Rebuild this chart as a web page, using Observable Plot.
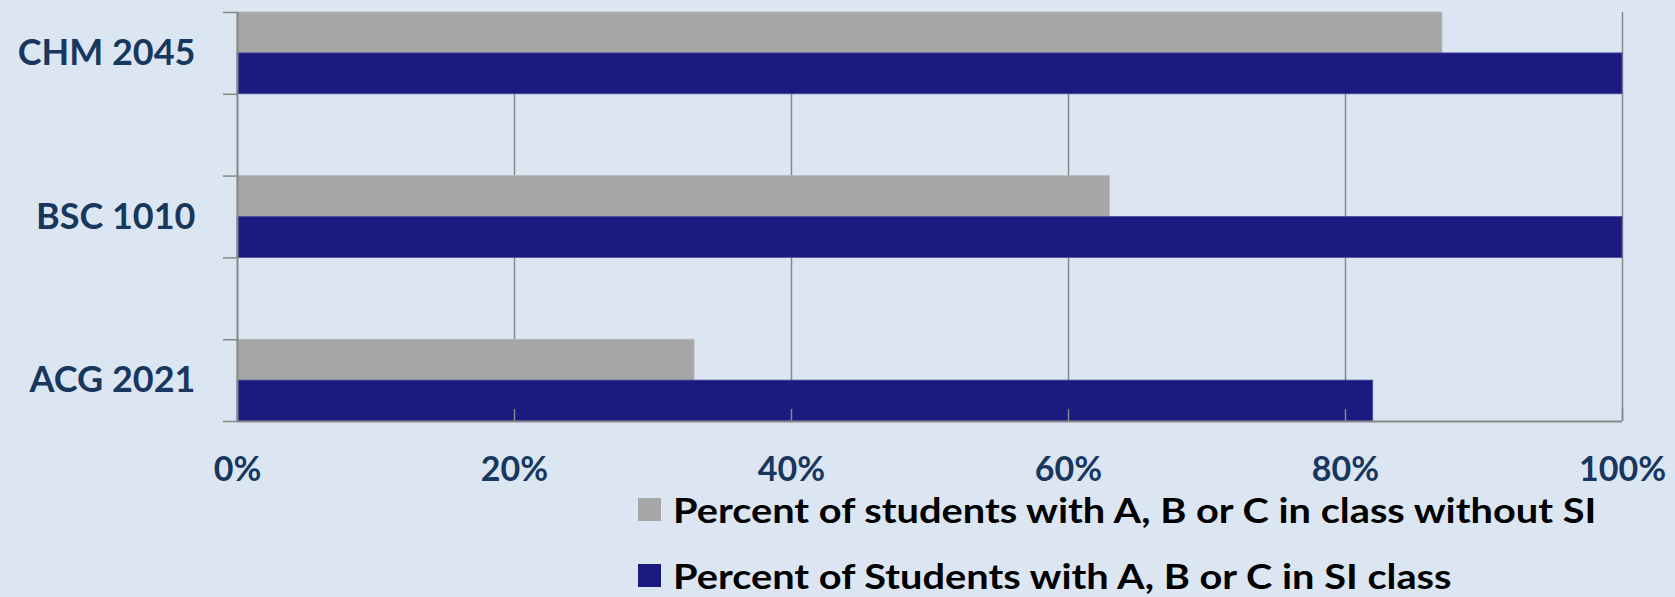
<!DOCTYPE html>
<html>
<head>
<meta charset="utf-8">
<script src="https://cdn.jsdelivr.net/npm/d3@7"></script>
<script src="https://cdn.jsdelivr.net/npm/@observablehq/plot@0.6"></script>
<style>
  html, body { margin: 0; padding: 0; background: #dce6f2; }
  #wrap { position: relative; width: 1675px; height: 597px; background: #dce6f2; overflow: hidden; }
  #chart svg { display: block; }
  .lg { position: absolute; left: 638px; height: 30px; display: flex; align-items: center;
        font-family: Lato, "Open Sans", sans-serif; font-weight: bold; font-size: 35px; line-height: 0.8; color: #000; white-space: nowrap; }
  .lg .sw { width: 23px; height: 23px; margin-right: 12px; flex: none; }
  .lg .tx { display: inline-block; transform-origin: left center; transform: scaleX(1.136); }
</style>
</head>
<body>
<div id="wrap">
  <div id="chart"></div>
  <div id="legend"></div>
</div>
<script>
const categories = ["CHM 2045", "BSC 1010", "ACG 2021"];
const withoutSI = [87, 63, 33];
const withSI = [100, 100, 82];
const seriesNames = [
  "Percent of students with A, B or C in class without SI",
  "Percent of Students with A, B or C in SI class"
];
const seriesColors = ["#a6a6a6", "#1a1a80"];
const xTicks = [0, 20, 40, 60, 80, 100];

// Each category occupies one slot, with an empty slot between categories.
const rows = categories.flatMap((c, i) => [
  {cat: c, series: seriesNames[0], value: withoutSI[i], y1: 2 * i, y2: 2 * i + 0.5},
  {cat: c, series: seriesNames[1], value: withSI[i], y1: 2 * i + 0.5, y2: 2 * i + 1}
]);
const nSlots = 2 * categories.length - 1;
const labelPos = categories.map((c, i) => 2 * i + 0.5);

const chart = Plot.plot({
  width: 1675,
  height: 490,
  marginLeft: 237,
  marginRight: 53,
  marginTop: 12,
  marginBottom: 69,
  style: {background: "#dce6f2", fontFamily: "Lato, 'Open Sans', sans-serif", fontWeight: "bold", overflow: "visible"},
  x: {domain: [0, 100], label: null},
  y: {domain: [0, nSlots], reverse: true, label: null},
  color: {domain: seriesNames, range: seriesColors},
  marks: [
    Plot.gridX(xTicks.slice(1), {stroke: "#878787", strokeOpacity: 1, strokeWidth: 1.5}),
    Plot.rectX(rows, {x1: 0, x2: "value", y1: "y1", y2: "y2", fill: "series",
      stroke: d => d.series === seriesNames[0] ? "#b8b8b8" : "#4b4b9c", strokeWidth: 0.8}),
    Plot.ruleX([0], {stroke: "#878787", strokeWidth: 2}),
    Plot.ruleY([nSlots], {stroke: "#878787", strokeWidth: 2}),
    Plot.axisX({ticks: xTicks.slice(1), tickSize: 12, text: null, dy: -12, stroke: "#878787", strokeWidth: 1.5, label: null}),
    Plot.axisX({ticks: xTicks, tickFormat: d => d + "%", tickSize: 0, tickPadding: 35,
      fill: "#17375e", fontSize: 34, label: null}),
    Plot.axisY({ticks: d3.range(nSlots + 1), tickSize: 14, text: null, stroke: "#878787", strokeWidth: 1.5, label: null}),
    Plot.axisY({ticks: labelPos, tickFormat: d => categories[(d - 0.5) / 2], tickSize: 0, tickPadding: 42,
      fill: "#17375e", fontSize: 36, label: null})
  ]
});
document.getElementById("chart").appendChild(chart);

const legend = document.getElementById("legend");
seriesNames.forEach((name, i) => {
  const row = document.createElement("div");
  row.className = "lg";
  row.style.top = (494 + i * 66) + "px";
  const sw = document.createElement("span");
  sw.className = "sw";
  sw.style.background = seriesColors[i];
  const tx = document.createElement("span");
  tx.className = "tx";
  tx.textContent = name;
  row.appendChild(sw);
  row.appendChild(tx);
  legend.appendChild(row);
});
</script>
</body>
</html>
